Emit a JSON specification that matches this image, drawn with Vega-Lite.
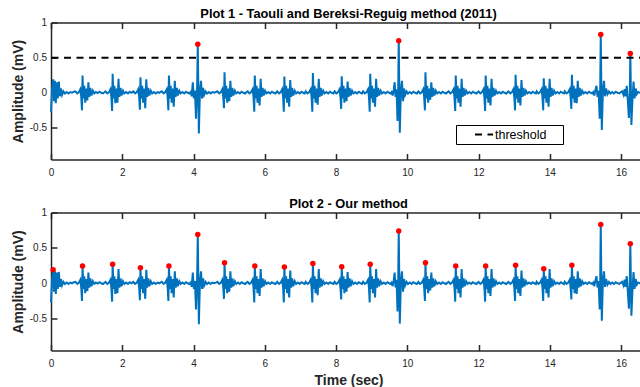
{
  "$schema": "https://vega.github.io/schema/vega-lite/v6.json",
  "padding": {"left": 11, "top": 7.5, "right": 0, "bottom": 0},
  "bounds": "flush",
  "spacing": 53,
  "config": {
    "font": "Liberation Sans",
    "view": {"stroke": null},
    "axis": {"domainColor": "#262626", "domainWidth": 1.5, "tickColor": "#262626", "tickWidth": 1.5, "tickSize": -6, "labelColor": "#262626", "labelFontSize": 10, "labelFont": "Liberation Sans", "grid": false, "titleFont": "Liberation Sans", "titleFontSize": 14, "titleFontWeight": "bold", "titleColor": "#262626", "labelFlush": false},
    "title": {"fontSize": 12.8, "fontWeight": "bold", "color": "black", "font": "Liberation Sans", "anchor": "middle", "offset": -3.5, "baseline": "alphabetic"}
  },
  "datasets": {
    "sig": [
      {"t":0,"v":-0.27},{"t":0.03,"v":0.05},{"t":0.06,"v":0.19},{"t":0.085,"v":-0.12},{"t":0.11,"v":0.17},{"t":0.135,"v":-0.15},{"t":0.16,"v":0.15},{"t":0.19,"v":-0.08},{"t":0.22,"v":0.16},{"t":0.25,"v":-0.05},{"t":0.28,"v":0.06},{"t":0.31,"v":-0.03},{"t":0.35,"v":0.02},{"t":0.39,"v":-0.01},{"t":0.44,"v":0.01},{"t":0.49,"v":-0.01},{"t":0.54,"v":0.01},{"t":0.59,"v":0},{"t":0.64,"v":0.015},
      {"t":0.685,"v":0.02},{"t":0.735,"v":-0.01},{"t":0.785,"v":0.01},{"t":0.825,"v":0.05},{"t":0.85,"v":-0.07},{"t":0.87,"v":-0.25},{"t":0.885,"v":0.245},{"t":0.91,"v":-0.08},{"t":0.935,"v":0.1},{"t":0.96,"v":-0.14},{"t":0.99,"v":0.06},{"t":1.02,"v":-0.11},{"t":1.05,"v":0.15},{"t":1.075,"v":-0.06},{"t":1.105,"v":0.07},{"t":1.135,"v":-0.04},{"t":1.175,"v":0.03},{"t":1.215,"v":-0.01},{"t":1.26,"v":0.01},{"t":1.31,"v":-0.005},{"t":1.36,"v":0.015},{"t":1.41,"v":0},{"t":1.46,"v":-0.01},
      {"t":1.53,"v":0.02},{"t":1.58,"v":-0.01},{"t":1.63,"v":0.01},{"t":1.67,"v":0.05},{"t":1.695,"v":-0.07},{"t":1.715,"v":-0.26},{"t":1.73,"v":0.27},{"t":1.755,"v":-0.08},{"t":1.78,"v":0.1},{"t":1.805,"v":-0.15},{"t":1.835,"v":0.06},{"t":1.865,"v":-0.14},{"t":1.895,"v":0.2},{"t":1.92,"v":-0.06},{"t":1.95,"v":0.07},{"t":1.98,"v":-0.04},{"t":2.02,"v":0.03},{"t":2.06,"v":-0.01},{"t":2.11,"v":0.01},{"t":2.16,"v":-0.01},{"t":2.21,"v":0.015},{"t":2.26,"v":0},
      {"t":2.31,"v":0.02},{"t":2.36,"v":-0.01},{"t":2.41,"v":0.01},{"t":2.45,"v":0.05},{"t":2.475,"v":-0.07},{"t":2.495,"v":-0.24},{"t":2.51,"v":0.22},{"t":2.535,"v":-0.08},{"t":2.56,"v":0.1},{"t":2.585,"v":-0.14},{"t":2.615,"v":0.06},{"t":2.645,"v":-0.22},{"t":2.675,"v":0.19},{"t":2.7,"v":-0.06},{"t":2.73,"v":0.07},{"t":2.76,"v":-0.04},{"t":2.8,"v":0.03},{"t":2.84,"v":-0.01},{"t":2.89,"v":0.01},{"t":2.94,"v":-0.01},{"t":2.99,"v":0.01},{"t":3.04,"v":0},{"t":3.07,"v":0.01},
      {"t":3.11,"v":0.02},{"t":3.16,"v":-0.01},{"t":3.21,"v":0.01},{"t":3.25,"v":0.05},{"t":3.275,"v":-0.07},{"t":3.295,"v":-0.25},{"t":3.31,"v":0.245},{"t":3.335,"v":-0.08},{"t":3.36,"v":0.1},{"t":3.385,"v":-0.14},{"t":3.415,"v":0.06},{"t":3.445,"v":-0.2},{"t":3.475,"v":0.17},{"t":3.5,"v":-0.06},{"t":3.53,"v":0.07},{"t":3.56,"v":-0.04},{"t":3.6,"v":0.03},{"t":3.64,"v":-0.01},{"t":3.69,"v":0.01},{"t":3.74,"v":-0.01},{"t":3.79,"v":0.015},{"t":3.84,"v":0},{"t":3.88,"v":-0.01},
      {"t":3.92,"v":0.01},{"t":3.95,"v":-0.05},{"t":3.98,"v":0.15},{"t":4.01,"v":-0.08},{"t":4.04,"v":0.03},{"t":4.07,"v":-0.37},{"t":4.1,"v":0.05},{"t":4.12,"v":0.69},{"t":4.15,"v":-0.58},{"t":4.18,"v":0.02},{"t":4.21,"v":0.17},{"t":4.24,"v":-0.08},{"t":4.27,"v":0.07},{"t":4.3,"v":-0.03},{"t":4.34,"v":0.02},{"t":4.38,"v":-0.01},{"t":4.43,"v":0.01},{"t":4.48,"v":-0.01},{"t":4.53,"v":0.01},{"t":4.58,"v":0},{"t":4.63,"v":0.01},
      {"t":4.67,"v":0.02},{"t":4.72,"v":-0.01},{"t":4.77,"v":0.01},{"t":4.81,"v":0.05},{"t":4.835,"v":-0.07},{"t":4.855,"v":-0.22},{"t":4.87,"v":0.29},{"t":4.895,"v":-0.08},{"t":4.92,"v":0.1},{"t":4.945,"v":-0.14},{"t":4.975,"v":0.06},{"t":5.005,"v":-0.12},{"t":5.035,"v":0.17},{"t":5.06,"v":-0.06},{"t":5.09,"v":0.07},{"t":5.12,"v":-0.04},{"t":5.16,"v":0.03},{"t":5.2,"v":-0.01},{"t":5.25,"v":0.01},{"t":5.3,"v":-0.01},{"t":5.35,"v":0.015},{"t":5.4,"v":0},{"t":5.45,"v":-0.01},{"t":5.49,"v":0.01},
      {"t":5.52,"v":0.02},{"t":5.57,"v":-0.01},{"t":5.62,"v":0.01},{"t":5.66,"v":0.05},{"t":5.685,"v":-0.07},{"t":5.705,"v":-0.27},{"t":5.72,"v":0.245},{"t":5.745,"v":-0.08},{"t":5.77,"v":0.1},{"t":5.795,"v":-0.14},{"t":5.825,"v":0.06},{"t":5.855,"v":-0.18},{"t":5.885,"v":0.2},{"t":5.91,"v":-0.06},{"t":5.94,"v":0.07},{"t":5.97,"v":-0.04},{"t":6.01,"v":0.03},{"t":6.05,"v":-0.01},{"t":6.1,"v":0.01},{"t":6.15,"v":-0.01},{"t":6.2,"v":0.015},{"t":6.25,"v":0},{"t":6.3,"v":-0.01},
      {"t":6.35,"v":0.02},{"t":6.4,"v":-0.01},{"t":6.45,"v":0.01},{"t":6.49,"v":0.05},{"t":6.515,"v":-0.07},{"t":6.535,"v":-0.27},{"t":6.55,"v":0.23},{"t":6.575,"v":-0.08},{"t":6.6,"v":0.1},{"t":6.625,"v":-0.14},{"t":6.655,"v":0.06},{"t":6.685,"v":-0.2},{"t":6.715,"v":0.18},{"t":6.74,"v":-0.06},{"t":6.77,"v":0.07},{"t":6.8,"v":-0.04},{"t":6.84,"v":0.03},{"t":6.88,"v":-0.01},{"t":6.93,"v":0.01},{"t":6.98,"v":-0.01},{"t":7.03,"v":0.015},{"t":7.08,"v":0},{"t":7.12,"v":-0.01},
      {"t":7.15,"v":0.02},{"t":7.2,"v":-0.01},{"t":7.25,"v":0.01},{"t":7.29,"v":0.05},{"t":7.315,"v":-0.07},{"t":7.335,"v":-0.27},{"t":7.35,"v":0.28},{"t":7.375,"v":-0.08},{"t":7.4,"v":0.1},{"t":7.425,"v":-0.14},{"t":7.455,"v":0.06},{"t":7.485,"v":-0.17},{"t":7.515,"v":0.2},{"t":7.54,"v":-0.06},{"t":7.57,"v":0.07},{"t":7.6,"v":-0.04},{"t":7.64,"v":0.03},{"t":7.68,"v":-0.01},{"t":7.73,"v":0.01},{"t":7.78,"v":-0.01},{"t":7.83,"v":0.015},{"t":7.88,"v":0},{"t":7.93,"v":-0.01},
      {"t":7.96,"v":0.02},{"t":8.01,"v":-0.01},{"t":8.06,"v":0.01},{"t":8.1,"v":0.05},{"t":8.125,"v":-0.07},{"t":8.145,"v":-0.23},{"t":8.16,"v":0.235},{"t":8.185,"v":-0.08},{"t":8.21,"v":0.1},{"t":8.235,"v":-0.14},{"t":8.265,"v":0.06},{"t":8.295,"v":-0.12},{"t":8.325,"v":0.16},{"t":8.35,"v":-0.06},{"t":8.38,"v":0.07},{"t":8.41,"v":-0.04},{"t":8.45,"v":0.03},{"t":8.49,"v":-0.01},{"t":8.54,"v":0.01},{"t":8.59,"v":-0.01},{"t":8.64,"v":0.015},{"t":8.69,"v":0},{"t":8.73,"v":-0.01},
      {"t":8.76,"v":0.02},{"t":8.81,"v":-0.01},{"t":8.86,"v":0.01},{"t":8.9,"v":0.05},{"t":8.925,"v":-0.07},{"t":8.945,"v":-0.27},{"t":8.96,"v":0.27},{"t":8.985,"v":-0.08},{"t":9.01,"v":0.1},{"t":9.035,"v":-0.14},{"t":9.065,"v":0.06},{"t":9.095,"v":-0.2},{"t":9.125,"v":0.2},{"t":9.15,"v":-0.06},{"t":9.18,"v":0.07},{"t":9.21,"v":-0.04},{"t":9.25,"v":0.03},{"t":9.29,"v":-0.01},{"t":9.34,"v":0.01},{"t":9.39,"v":-0.01},{"t":9.44,"v":0.015},{"t":9.49,"v":0},{"t":9.53,"v":-0.01},
      {"t":9.56,"v":0.01},{"t":9.59,"v":-0.04},{"t":9.62,"v":0.04},{"t":9.645,"v":0.15},{"t":9.67,"v":-0.06},{"t":9.7,"v":0.05},{"t":9.725,"v":-0.4},{"t":9.745,"v":0.05},{"t":9.76,"v":0.74},{"t":9.79,"v":-0.57},{"t":9.82,"v":0.03},{"t":9.85,"v":0.17},{"t":9.88,"v":-0.12},{"t":9.91,"v":0.06},{"t":9.94,"v":-0.03},{"t":9.98,"v":0.02},{"t":10.02,"v":-0.01},{"t":10.07,"v":0.01},{"t":10.12,"v":-0.01},{"t":10.17,"v":0.015},{"t":10.22,"v":0},{"t":10.27,"v":-0.01},
      {"t":10.31,"v":0.02},{"t":10.36,"v":-0.01},{"t":10.41,"v":0.01},{"t":10.45,"v":0.05},{"t":10.475,"v":-0.07},{"t":10.495,"v":-0.25},{"t":10.51,"v":0.29},{"t":10.535,"v":-0.08},{"t":10.56,"v":0.1},{"t":10.585,"v":-0.14},{"t":10.615,"v":0.06},{"t":10.645,"v":-0.1},{"t":10.675,"v":0.15},{"t":10.7,"v":-0.06},{"t":10.73,"v":0.07},{"t":10.76,"v":-0.04},{"t":10.8,"v":0.03},{"t":10.84,"v":-0.01},{"t":10.89,"v":0.01},{"t":10.94,"v":-0.01},{"t":10.99,"v":0.015},{"t":11.04,"v":0},{"t":11.09,"v":-0.01},{"t":11.13,"v":0.01},
      {"t":11.16,"v":0.02},{"t":11.21,"v":-0.01},{"t":11.26,"v":0.01},{"t":11.3,"v":0.05},{"t":11.325,"v":-0.07},{"t":11.345,"v":-0.26},{"t":11.36,"v":0.245},{"t":11.385,"v":-0.08},{"t":11.41,"v":0.1},{"t":11.435,"v":-0.14},{"t":11.465,"v":0.06},{"t":11.495,"v":-0.2},{"t":11.525,"v":0.2},{"t":11.55,"v":-0.06},{"t":11.58,"v":0.07},{"t":11.61,"v":-0.04},{"t":11.65,"v":0.03},{"t":11.69,"v":-0.01},{"t":11.74,"v":0.01},{"t":11.79,"v":-0.01},{"t":11.84,"v":0.015},{"t":11.89,"v":0},{"t":11.94,"v":-0.01},
      {"t":12,"v":0.02},{"t":12.05,"v":-0.01},{"t":12.1,"v":0.01},{"t":12.14,"v":0.05},{"t":12.165,"v":-0.07},{"t":12.185,"v":-0.26},{"t":12.2,"v":0.245},{"t":12.225,"v":-0.08},{"t":12.25,"v":0.1},{"t":12.275,"v":-0.14},{"t":12.305,"v":0.06},{"t":12.335,"v":-0.18},{"t":12.365,"v":0.2},{"t":12.39,"v":-0.06},{"t":12.42,"v":0.07},{"t":12.45,"v":-0.04},{"t":12.49,"v":0.03},{"t":12.53,"v":-0.01},{"t":12.58,"v":0.01},{"t":12.63,"v":-0.01},{"t":12.68,"v":0.015},{"t":12.73,"v":0},{"t":12.78,"v":-0.01},
      {"t":12.84,"v":0.02},{"t":12.89,"v":-0.01},{"t":12.94,"v":0.01},{"t":12.98,"v":0.05},{"t":13.005,"v":-0.07},{"t":13.025,"v":-0.25},{"t":13.04,"v":0.255},{"t":13.065,"v":-0.08},{"t":13.09,"v":0.1},{"t":13.115,"v":-0.14},{"t":13.145,"v":0.06},{"t":13.175,"v":-0.18},{"t":13.205,"v":0.18},{"t":13.23,"v":-0.06},{"t":13.26,"v":0.07},{"t":13.29,"v":-0.04},{"t":13.33,"v":0.03},{"t":13.37,"v":-0.01},{"t":13.42,"v":0.01},{"t":13.47,"v":-0.01},{"t":13.52,"v":0.015},{"t":13.57,"v":0},{"t":13.61,"v":-0.01},
      {"t":13.63,"v":0.02},{"t":13.68,"v":-0.01},{"t":13.73,"v":0.01},{"t":13.77,"v":0.05},{"t":13.795,"v":-0.07},{"t":13.815,"v":-0.25},{"t":13.83,"v":0.205},{"t":13.855,"v":-0.08},{"t":13.88,"v":0.1},{"t":13.905,"v":-0.14},{"t":13.935,"v":0.06},{"t":13.965,"v":-0.2},{"t":13.995,"v":0.2},{"t":14.02,"v":-0.06},{"t":14.05,"v":0.07},{"t":14.08,"v":-0.04},{"t":14.12,"v":0.03},{"t":14.16,"v":-0.01},{"t":14.21,"v":0.01},{"t":14.26,"v":-0.01},{"t":14.31,"v":0.015},{"t":14.36,"v":0},{"t":14.4,"v":-0.01},
      {"t":14.42,"v":0.02},{"t":14.47,"v":-0.01},{"t":14.52,"v":0.01},{"t":14.56,"v":0.05},{"t":14.585,"v":-0.07},{"t":14.605,"v":-0.23},{"t":14.62,"v":0.255},{"t":14.645,"v":-0.08},{"t":14.67,"v":0.1},{"t":14.695,"v":-0.14},{"t":14.725,"v":0.06},{"t":14.755,"v":-0.15},{"t":14.785,"v":0.17},{"t":14.81,"v":-0.06},{"t":14.84,"v":0.07},{"t":14.87,"v":-0.04},{"t":14.91,"v":0.03},{"t":14.95,"v":-0.01},{"t":15,"v":0.01},{"t":15.05,"v":-0.01},{"t":15.1,"v":0.015},{"t":15.15,"v":0},{"t":15.19,"v":-0.01},
      {"t":15.22,"v":0.01},{"t":15.25,"v":-0.04},{"t":15.28,"v":0.04},{"t":15.31,"v":0.1},{"t":15.34,"v":-0.06},{"t":15.37,"v":0.03},{"t":15.4,"v":-0.37},{"t":15.415,"v":0.05},{"t":15.43,"v":0.83},{"t":15.46,"v":-0.53},{"t":15.49,"v":0.03},{"t":15.52,"v":0.17},{"t":15.55,"v":-0.05},{"t":15.58,"v":0.06},{"t":15.62,"v":-0.02},{"t":15.66,"v":0.02},{"t":15.7,"v":-0.01},{"t":15.75,"v":0.01},{"t":15.8,"v":-0.01},{"t":15.85,"v":0.015},{"t":15.9,"v":0},{"t":15.95,"v":-0.01},{"t":16,"v":0.01},
      {"t":16.03,"v":0.02},{"t":16.07,"v":-0.03},{"t":16.1,"v":0.05},{"t":16.13,"v":-0.05},{"t":16.16,"v":0.1},{"t":16.19,"v":-0.12},{"t":16.22,"v":-0.36},{"t":16.245,"v":0},{"t":16.26,"v":0.56},{"t":16.29,"v":-0.46},{"t":16.32,"v":-0.1},{"t":16.35,"v":0.16},{"t":16.38,"v":-0.08},{"t":16.41,"v":0.06},{"t":16.44,"v":-0.02},{"t":16.48,"v":0.01},{"t":16.53,"v":0},{"t":16.58,"v":0.01},{"t":16.63,"v":-0.01},{"t":16.7,"v":0}
    ],
    "peaks": [
      {"t":0.06,"v":0.19},{"t":0.885,"v":0.245},{"t":1.73,"v":0.27},{"t":2.51,"v":0.22},{"t":3.31,"v":0.245},{"t":4.12,"v":0.69},{"t":4.87,"v":0.29},{"t":5.72,"v":0.245},{"t":6.55,"v":0.23},{"t":7.35,"v":0.28},{"t":8.16,"v":0.235},{"t":8.96,"v":0.27},{"t":9.76,"v":0.74},{"t":10.51,"v":0.29},{"t":11.36,"v":0.245},{"t":12.2,"v":0.245},{"t":13.04,"v":0.255},{"t":13.83,"v":0.205},{"t":14.62,"v":0.255},{"t":15.43,"v":0.83},{"t":16.26,"v":0.56}
    ],
    "thr": [{"y": 0.5, "name": "threshold"}]
  },
  "vconcat": [
    {
      "width": 595,
      "height": 137,
      "title": {"text": "Plot 1 - Taouli and Bereksi-Reguig method (2011)"},
      "layer": [
        {
          "data": {"name": "sig"},
          "mark": {"type": "line", "color": "#0072BD", "strokeWidth": 2},
          "encoding": {
            "x": {"field": "t", "type": "quantitative", "scale": {"domain": [0, 16.7], "nice": false, "zero": false}, "axis": {"orient": "bottom", "values": [0,2,4,6,8,10,12,14,16], "title": null, "labelPadding": 13.5}},
            "y": {"field": "v", "type": "quantitative", "scale": {"domain": [-0.95, 1], "nice": false, "zero": false}, "axis": {"orient": "left", "values": [-0.5,0,0.5,1], "labelExpr": "'' + datum.value", "title": "Amplitude (mV)", "labelPadding": 10.5, "titlePadding": 4}}
          }
        },
        {
          "data": {"name": "thr"},
          "mark": {"type": "rule", "strokeWidth": 2, "strokeDash": [7, 5.5]},
          "encoding": {
            "y": {"field": "y", "type": "quantitative", "axis": null},
            "color": {"field": "name", "type": "nominal", "scale": {"range": ["black"]},
              "legend": {"orient": "none", "legendX": 405, "legendY": 102.5, "title": null, "symbolType": "M1.583,0H4.583", "symbolStrokeWidth": 2, "symbolDash": [7, 5.5], "symbolSize": 144, "symbolStrokeColor": "black", "symbolFillColor": "transparent", "strokeColor": "black", "fillColor": "white", "padding": 2.5, "labelFontSize": 12.5, "labelColor": "black", "labelFont": "Liberation Sans", "labelOffset": 22.5, "cornerRadius": 0, "labelExpr": "datum.label + '\u00a0\u2800'"}}
          }
        },
        {
          "data": {"name": "peaks"},
          "transform": [{"filter": "datum.v > 0.5"}],
          "mark": {"type": "circle", "color": "#FF0000", "size": 30, "opacity": 1},
          "encoding": {
            "x": {"field": "t", "type": "quantitative", "axis": null},
            "y": {"field": "v", "type": "quantitative", "axis": null}
          }
        },
        {
          "data": {"name": "peaks"},
          "mark": {"type": "point", "opacity": 0},
          "encoding": {
            "x": {"field": "t", "type": "quantitative", "axis": {"orient": "top", "values": [0,2,4,6,8,10,12,14,16], "labels": false, "title": null}},
            "y": {"field": "v", "type": "quantitative", "axis": {"orient": "right", "values": [-0.5,0,0.5,1], "labels": false, "title": null}}
          }
        }
      ],
      "resolve": {"axis": {"x": "independent", "y": "independent"}}
    },
    {
      "width": 595,
      "height": 138,
      "title": {"text": "Plot 2 - Our method"},
      "layer": [
        {
          "data": {"name": "sig"},
          "mark": {"type": "line", "color": "#0072BD", "strokeWidth": 2},
          "encoding": {
            "x": {"field": "t", "type": "quantitative", "scale": {"domain": [0, 16.7], "nice": false, "zero": false}, "axis": {"orient": "bottom", "values": [0,2,4,6,8,10,12,14,16], "title": "Time (sec)", "labelPadding": 13.5, "titlePadding": 5.5}},
            "y": {"field": "v", "type": "quantitative", "scale": {"domain": [-0.95, 1], "nice": false, "zero": false}, "axis": {"orient": "left", "values": [-0.5,0,0.5,1], "labelExpr": "'' + datum.value", "title": "Amplitude (mV)", "labelPadding": 10.5, "titlePadding": 4}}
          }
        },
        {
          "data": {"name": "peaks"},
          "mark": {"type": "circle", "color": "#FF0000", "size": 30, "opacity": 1},
          "encoding": {
            "x": {"field": "t", "type": "quantitative", "axis": null},
            "y": {"field": "v", "type": "quantitative", "axis": null}
          }
        },
        {
          "data": {"name": "peaks"},
          "mark": {"type": "point", "opacity": 0},
          "encoding": {
            "x": {"field": "t", "type": "quantitative", "axis": {"orient": "top", "values": [0,2,4,6,8,10,12,14,16], "labels": false, "title": null}},
            "y": {"field": "v", "type": "quantitative", "axis": {"orient": "right", "values": [-0.5,0,0.5,1], "labels": false, "title": null}}
          }
        }
      ],
      "resolve": {"axis": {"x": "independent", "y": "independent"}}
    }
  ]
}
